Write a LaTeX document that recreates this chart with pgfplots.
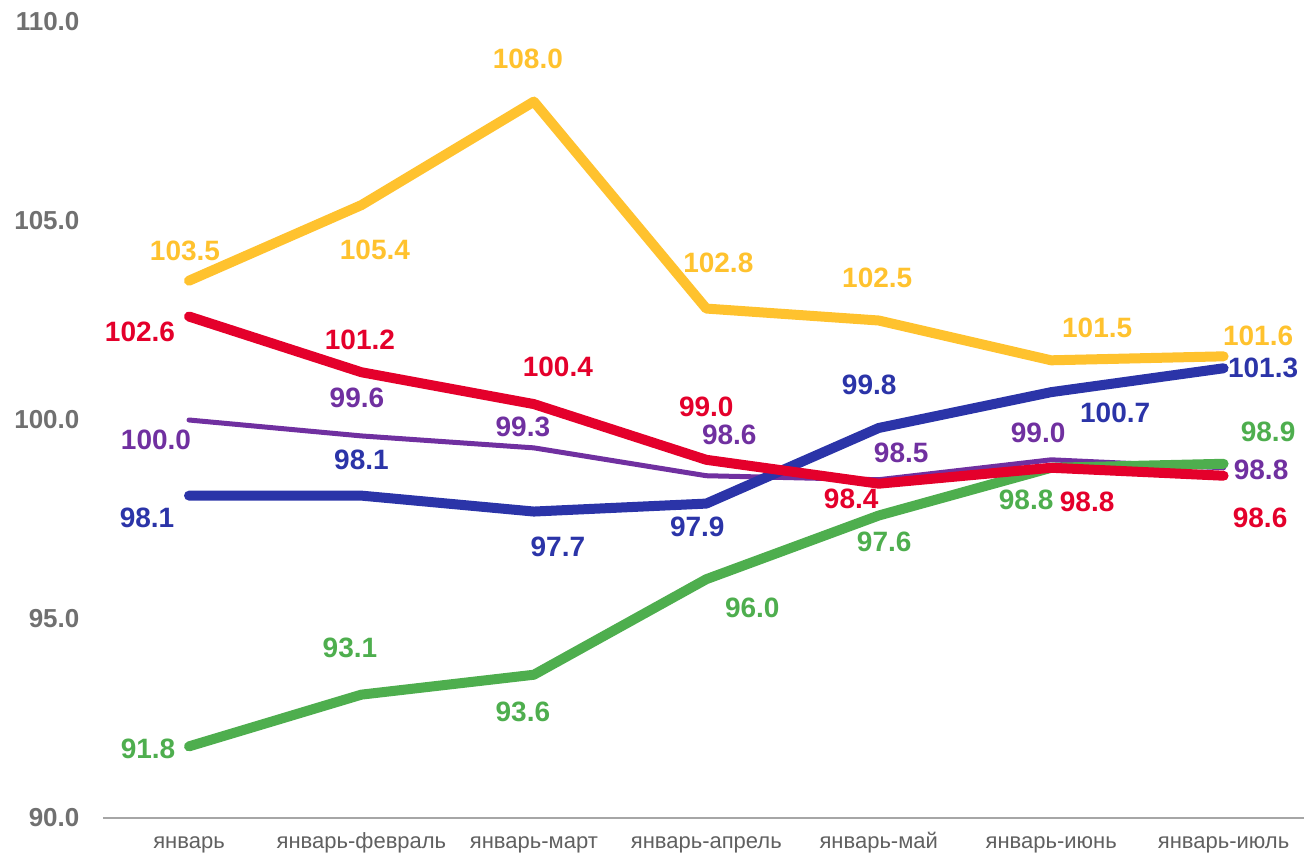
\documentclass[border=0pt]{standalone}
\usepackage{pgfplots}
\usepackage{pgfplotstable}
\pgfplotsset{compat=1.18}
\usepackage{fontspec}
\setmainfont{Liberation Sans}
\definecolor{ycol}{HTML}{FFC22E}
\definecolor{rcol}{HTML}{E4002B}
\definecolor{pcol}{HTML}{7030A0}
\definecolor{bcol}{HTML}{2B34A8}
\definecolor{gcol}{HTML}{4EAE4E}
\definecolor{tickgray}{HTML}{707070}
\definecolor{catgray}{HTML}{606060}
\definecolor{axgray}{HTML}{A6A6A6}

\pgfplotstableread{
x y dx dy
0 103.5 -2 15
1 105.4 6.75 -22.5
2 108.0 -3 21.25
3 102.8 6 22.75
4 102.5 -0.75 21.25
5 101.5 23 16
6 101.6 17.25 10
}\yellowdata
\pgfplotstableread{
x y dx dy
0 102.6 -24.5 -7.75
1 101.2 -0.75 16
2 100.4 12 18.5
3 99.0 0 26.5
4 98.4 -13.75 -7.75
5 98.8 18 -17
6 98.6 18.25 -21
}\reddata
\pgfplotstableread{
x y dx dy
0 100.0 -16.5 -10
1 99.6 -2.25 19
2 99.3 -5.5 10.5
3 98.6 11.5 20.5
4 98.5 11.25 13.5
5 99.0 -6.5 13.5
6 98.8 18.75 -1
}\purpledata
\pgfplotstableread{
x y dx dy
0 98.1 -21 -11.25
1 98.1 0 17.75
2 97.7 12 -17.75
3 97.9 -4.5 -11.75
4 99.8 -4.75 21.5
5 100.7 32 -10.5
6 101.3 19.75 0
}\bluedata
\pgfplotstableread{
x y dx dy
0 91.8 -20.5 -1
1 93.1 -5.75 23.25
2 93.6 -5.5 -18.5
3 96.0 23 -14.5
4 97.6 2.75 -13.25
5 98.8 -12.5 -16
6 98.9 22.25 16
}\greendata

\pgfplotsset{
  lbl/.style={
    nodes near coords={\pgfmathprintnumber[fixed,fixed zerofill,precision=1]{\pgfplotspointmeta}},
    point meta=y,
    visualization depends on={\thisrow{dx}\as\ndx},
    visualization depends on={\thisrow{dy}\as\ndy},
    every node near coord/.append style={anchor=center, inner sep=0pt,
      font=\bfseries\fontsize{14}{14}\selectfont, xshift=\ndx pt, yshift=\ndy pt},
  },
  ser/.style={line join=round, line cap=round, mark=none},
}

\begin{document}
\begin{tikzpicture}
\path[use as bounding box] (-51.4pt,-17.5pt) rectangle (600.6pt,409pt);
\begin{axis}[
  at={(0,0)}, anchor=south west,
  scale only axis, width=603.5pt, height=398pt,
  xmin=-0.5, xmax=6.5, ymin=90, ymax=110,
  clip=false,
  axis x line*=bottom, axis y line*=left,
  x axis line style={-, draw=axgray, line width=1pt},
  y axis line style={draw=none},
  ytick={90,95,100,105,110},
  ytick style={draw=none},
  /pgf/number format/.cd, fixed, fixed zerofill, precision=1, assume math mode=true, /pgfplots/.cd,
  yticklabel style={anchor=east, inner sep=0pt, xshift=-11.5pt, text=tickgray,
    font=\bfseries\fontsize{13}{13}\selectfont},
  xtick={0,...,6},
  xticklabels={январь, январь-февраль, январь-март, январь-апрель, январь-май, январь-июнь, январь-июль},
  major x tick style={draw=none},
  xticklabel style={anchor=base, inner sep=0pt, yshift=-15pt, text=catgray,
    font=\fontsize{11}{11}\selectfont},
  extra x ticks={-0.5,0.5,1.5,2.5,3.5,4.5,5.5,6.5},
  extra x tick labels={},
  extra x tick style={tick align=outside, major tick length=3pt,
    tick style={draw=axgray, line width=1pt}},
]
\addplot[ser, pcol, line width=2.5pt, lbl] table[x=x,y=y] {\purpledata};
\addplot[ser, bcol, line width=5pt, lbl] table[x=x,y=y] {\bluedata};
\addplot[ser, gcol, line width=5pt, lbl] table[x=x,y=y] {\greendata};
\addplot[ser, ycol, line width=5pt, lbl] table[x=x,y=y] {\yellowdata};
\addplot[ser, rcol, line width=5pt, lbl] table[x=x,y=y] {\reddata};
\end{axis}
\end{tikzpicture}
\end{document}
